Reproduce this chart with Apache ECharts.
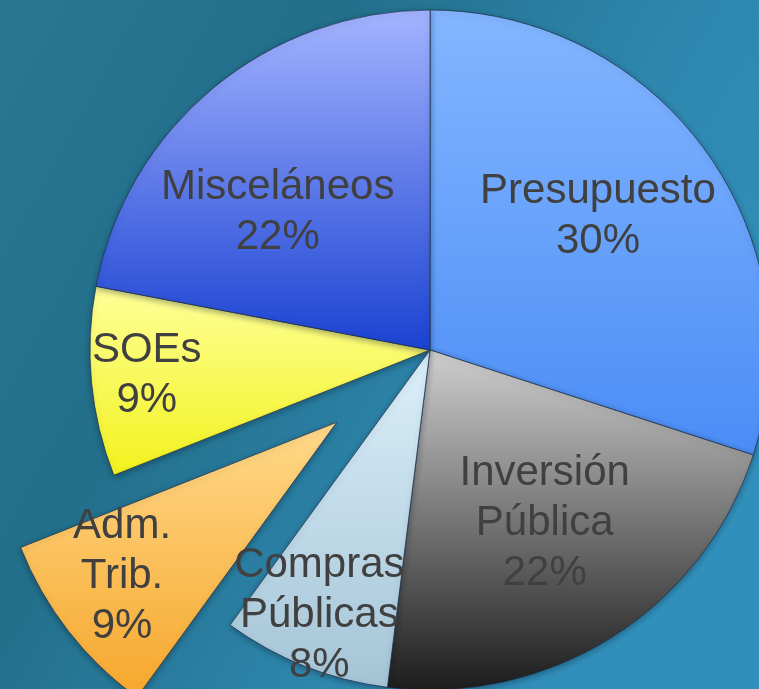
<!DOCTYPE html>
<html>
<head>
<meta charset="utf-8">
<script src="https://cdn.jsdelivr.net/npm/echarts@6/dist/echarts.min.js"></script>
<style>
  html, body { margin: 0; padding: 0; }
  #chart { width: 759px; height: 689px; }
</style>
</head>
<body>
<div id="chart"></div>
<script>
// Slices, clockwise from 12 o'clock
const NAMES = ['Presupuesto', 'Inversión\nPública', 'Compras\nPúblicas', 'Adm.\nTrib.', 'SOEs', 'Misceláneos']
const VALUES = [30, 22, 8, 9, 9, 22]
const EXPLODED = [false, false, false, true, false, false]

// Slice gradients (top -> bottom)
const COLORS = [
  ['#84b6ff', '#4a8df6'],
  ['#cfcfcf', '#1c1c1c'],
  ['#dcf0fb', '#a4c4d6'],
  ['#ffd98a', '#f6a72c'],
  ['#ffff9a', '#f2f21c'],
  ['#a4b4ff', '#1a42d2'],
]

// Label nudges from the default "inside" spot
const LABEL_OFFSETS = [[28, -32], [22, 27], [-47, 105], [-78, 48], [-111, 9], [-42, -4]]

const chart = echarts.init(document.getElementById('chart'))

chart.setOption({
  animation: false,
  backgroundColor: new echarts.graphic.LinearGradient(0, 0, 1, 0.6, [
    { offset: 0, color: '#2a7793' },
    { offset: 0.35, color: '#226f8b' },
    { offset: 0.7, color: '#2e86ad' },
    { offset: 1, color: '#3190bb' },
  ]),
  series: [
    {
      type: 'pie',
      center: [430, 350],
      radius: 340,
      startAngle: 90,
      clockwise: true,
      selectedMode: 'single',
      selectedOffset: 118,
      avoidLabelOverlap: false,
      emphasis: { disabled: true },
      itemStyle: {
        borderColor: 'rgba(30,45,70,0.7)',
        borderWidth: 1,
        shadowBlur: 6,
        shadowColor: 'rgba(0,20,40,0.35)',
        shadowOffsetY: 2,
      },
      label: {
        show: true,
        position: 'inside',
        color: '#404040',
        fontFamily: 'Liberation Sans, Arial, sans-serif',
        fontSize: 42,
        lineHeight: 50,
        formatter: (p) => `${p.name}\n${Math.round(p.percent)}%`,
      },
      labelLine: { show: false },
      labelLayout: (p) => ({
        dx: LABEL_OFFSETS[p.dataIndex][0],
        dy: LABEL_OFFSETS[p.dataIndex][1],
      }),
      data: NAMES.map((name, i) => ({
        name,
        value: VALUES[i],
        selected: EXPLODED[i],
        itemStyle: {
          color: new echarts.graphic.LinearGradient(0, 0, 0, 1, [
            { offset: 0, color: COLORS[i][0] },
            { offset: 1, color: COLORS[i][1] },
          ]),
        },
      })),
    },
  ],
})
</script>
</body>
</html>
